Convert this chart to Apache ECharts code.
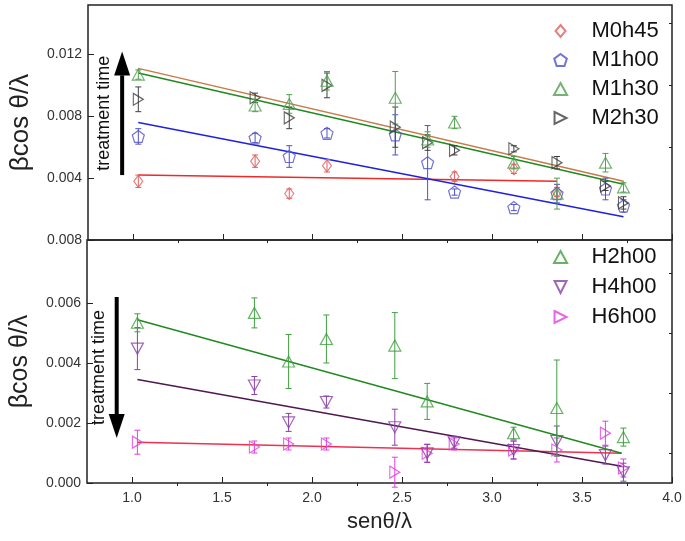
<!DOCTYPE html>
<html lang="en">
<head>
<meta charset="UTF-8">
<title>βcos θ/λ vs senθ/λ</title>
<script src="https://cdn.jsdelivr.net/npm/echarts@6/dist/echarts.min.js"></script>
<style>
  html, body { margin: 0; padding: 0; background: #fff; }
  #chart { width: 685px; height: 541px; }
</style>
</head>
<body>
<div id="chart"></div>
<script>
// points: [senθ/λ, βcosθ/λ, error]
const m0h45 = [[1.03,0.0038,0.0004],[1.68,0.0051,0.0004],[1.87,0.0030,0.0003],[2.08,0.0048,0.0004],[2.79,0.0041,0.0003],[3.12,0.0046,0.0003],[3.36,0.0031,0.0003]];
const m1h00 = [[1.03,0.0067,0.0005],[1.68,0.0066,0.0003],[1.87,0.0054,0.0007],[2.08,0.0069,0.0003],[2.46,0.0068,0.0013],[2.64,0.0050,0.0024],[2.79,0.0031,0.0002],[3.12,0.0021,0.0002],[3.36,0.0030,0.0006],[3.63,0.0033,0.0007],[3.73,0.0022,0.0004]];
const m1h30 = [[1.03,0.0107,0.0003],[1.68,0.0087,0.0004],[1.87,0.0088,0.0006],[2.08,0.0103,0.0006],[2.46,0.0092,0.0017],[2.64,0.0065,0.0005],[2.79,0.0076,0.0004],[3.12,0.0050,0.0004],[3.36,0.0030,0.0010],[3.63,0.0050,0.0006],[3.73,0.0034,0.0003]];
const m2h30 = [[1.03,0.0091,0.0008],[1.68,0.0092,0.0003],[1.87,0.0079,0.0007],[2.08,0.0100,0.0008],[2.46,0.0073,0.0013],[2.64,0.0063,0.0005],[2.79,0.0058,0.0003],[3.12,0.0059,0.0002],[3.36,0.0050,0.0004],[3.63,0.0035,0.0003],[3.73,0.0024,0.0004]];

const h2h00 = [[1.03,0.00534,0.0003],[1.68,0.00567,0.0005],[1.87,0.00405,0.0009],[2.08,0.0048,0.0008],[2.46,0.00458,0.0011],[2.64,0.00272,0.0006],[3.12,0.00166,0.0002],[3.36,0.0025,0.0016],[3.73,0.00153,0.0003]];
const h4h00 = [[1.03,0.00448,0.0007],[1.68,0.00325,0.0003],[1.87,0.00202,0.0003],[2.08,0.0027,0.0002],[2.46,0.00186,0.0006],[2.64,0.00099,0.0003],[2.79,0.00136,0.0002],[3.12,0.0011,0.0003],[3.36,0.0014,0.0005],[3.63,0.00093,0.0003],[3.73,0.00036,0.0003]];
const h6h00 = [[1.03,0.00136,0.0004],[1.68,0.0012,0.0002],[1.87,0.0013,0.0002],[2.08,0.0013,0.0002],[2.46,0.00036,0.0005],[2.64,0.00099,0.0003],[2.79,0.0013,0.0002],[3.12,0.0011,0.0003],[3.36,0.0011,0.0004],[3.63,0.00166,0.0004],[3.73,0.0005,0.0003]];

// linear fits (end points)
const fitM0h45 = [[1.03,0.0042],[3.36,0.0038]];
const fitM1h00 = [[1.03,0.0076],[3.73,0.0015]];
const fitM1h30 = [[1.03,0.0108],[3.73,0.0036]];
const fitM2h30 = [[1.03,0.0111],[3.73,0.0038]];
const fitH2h00 = [[1.03,0.00544],[3.72,0.00099]];
const fitH4h00 = [[1.03,0.00345],[3.72,0.00056]];
const fitH6h00 = [[1.03,0.00136],[3.72,0.00099]];

// ticks
const xMajor = [1.0, 1.5, 2.0, 2.5, 3.0, 3.5, 4.0];
const xMinor = [1.25, 1.75, 2.25, 2.75, 3.25, 3.75];
const topYMajor = [0, 0.004, 0.008, 0.012];
const topYLabels = ['0.008', '0.004', '0.008', '0.012'];
const topYMinor = [0.002, 0.006, 0.010, 0.014];
const botYMajor = [0, 0.002, 0.004, 0.006];
const botYLabels = ['0.000', '0.002', '0.004', '0.006'];
const botYMinor = [0.001, 0.003, 0.005, 0.007];

const FONT = 'Liberation Sans, Arial, sans-serif';
const SYM = {
  diamond: 'path://M5,0 L10,6 L5,12 L0,6 Z',
  pentagon: 'path://M0,-10 L9.5,-3.1 L5.9,8.1 L-5.9,8.1 L-9.5,-3.1 Z',
  up: 'path://M6,0 L12,11 L0,11 Z',
  right: 'path://M0,0 L10,5 L0,10 Z',
  down: 'path://M0,0 L10,0 L5,10 Z'
};

function labelFrom(ticks, labels) {
  return v => {
    const i = ticks.findIndex(t => Math.abs(t - v) < 1e-9);
    return i < 0 ? '' : labels[i];
  };
}

function errorBars(color) {
  return function (params, api) {
    const x = api.value(0);
    const lo = api.coord([x, api.value(1)]);
    const hi = api.coord([x, api.value(2)]);
    const w = 3;
    const style = { stroke: color, lineWidth: 1, fill: null };
    return {
      type: 'group',
      children: [
        { type: 'line', shape: { x1: lo[0], y1: lo[1], x2: hi[0], y2: hi[1] }, style: style },
        { type: 'line', shape: { x1: lo[0] - w, y1: lo[1], x2: lo[0] + w, y2: lo[1] }, style: style },
        { type: 'line', shape: { x1: hi[0] - w, y1: hi[1], x2: hi[0] + w, y2: hi[1] }, style: style }
      ]
    };
  };
}

function dataSet(name, pts, fit, symbol, size, color, lineColor, axis) {
  return [
    {
      name: name + ' fit', type: 'line', xAxisIndex: axis, yAxisIndex: axis,
      data: fit, symbol: 'none', silent: true, z: 2,
      lineStyle: { color: lineColor, width: 1.5 }
    },
    {
      name: name + ' err', type: 'custom', xAxisIndex: axis, yAxisIndex: axis,
      data: pts.map(p => [p[0], p[1] - p[2], p[1] + p[2]]),
      encode: { x: 0, y: [1, 2] }, renderItem: errorBars(color), silent: true, z: 3
    },
    {
      name: name, type: 'scatter', xAxisIndex: axis, yAxisIndex: axis,
      data: pts.map(p => [p[0], p[1]]), symbol: symbol, symbolSize: size, z: 4,
      itemStyle: { color: 'rgba(0,0,0,0)', borderColor: color, borderWidth: 1.2 }
    }
  ];
}

function xAxisDef(grid, ticks, len, withLabels) {
  return {
    gridIndex: grid, type: 'value', min: 0.75, max: 4,
    axisLine: { show: false }, splitLine: { show: false },
    axisTick: { inside: true, length: len, customValues: ticks, lineStyle: { color: '#222' } },
    axisLabel: withLabels
      ? { customValues: xMajor, formatter: v => v.toFixed(1), margin: 8, fontSize: 14, color: '#333', fontFamily: FONT }
      : { show: false }
  };
}

function yAxisDef(grid, max, ticks, len, labelTicks, labels, nameSize) {
  const ax = {
    gridIndex: grid, type: 'value', min: 0, max: max,
    axisLine: { show: false }, splitLine: { show: false },
    axisTick: { inside: true, length: len, customValues: ticks, lineStyle: { color: '#222' } },
    axisLabel: { show: false }
  };
  if (labels) {
    ax.axisLabel = { customValues: labelTicks, formatter: labelFrom(labelTicks, labels), margin: 6, fontSize: 14, color: '#333', fontFamily: FONT };
    ax.name = 'βcos θ/λ';
    ax.nameLocation = 'middle';
    ax.nameRotate = 90;
    ax.nameGap = 54;
    ax.nameTextStyle = { fontSize: nameSize, color: '#222', fontFamily: FONT };
  }
  return ax;
}

const chart = echarts.init(document.getElementById('chart'));

const legendBase = {
  orient: 'vertical', left: 548, itemWidth: 52, itemHeight: 12,
  textStyle: { fontSize: 22, color: '#111', fontFamily: FONT, lineHeight: 22 },
  selectedMode: false
};

const option = {
  animation: false,
  backgroundColor: '#fff',
  grid: [
    { left: 87, right: 13, top: 5, height: 235, show: true, borderColor: '#222', borderWidth: 1.5 },
    { left: 87, right: 13, top: 240, bottom: 58, show: true, borderColor: '#222', borderWidth: 1.5 }
  ],
  xAxis: [
    xAxisDef(0, xMajor, 6, false),
    xAxisDef(0, xMinor, 3, false),
    Object.assign(xAxisDef(1, xMajor, 6, true), {
      name: 'senθ/λ', nameLocation: 'middle', nameGap: 28,
      nameTextStyle: { fontSize: 22, color: '#222', fontFamily: FONT }
    }),
    xAxisDef(1, xMinor, 3, false)
  ],
  yAxis: [
    yAxisDef(0, 0.0152, topYMajor, 6, topYMajor, topYLabels, 26),
    yAxisDef(0, 0.0152, topYMinor, 3),
    yAxisDef(1, 0.0081, botYMajor, 6, botYMajor, botYLabels, 25),
    yAxisDef(1, 0.0081, botYMinor, 3)
  ],
  legend: [
    Object.assign({ top: 15, itemGap: 7, data: ['M0h45', 'M1h00', 'M1h30', 'M2h30'] }, legendBase),
    Object.assign({ top: 241, itemGap: 8, data: ['H2h00', 'H4h00', 'H6h00'] }, legendBase)
  ],
  series: [].concat(
    dataSet('M0h45', m0h45, fitM0h45, SYM.diamond, [9, 12], '#e06060', '#f02828', 0),
    dataSet('M1h00', m1h00, fitM1h00, SYM.pentagon, 12, '#5050c8', '#2020e0', 0),
    dataSet('M2h30', m2h30, fitM2h30, SYM.right, [10, 12], '#404040', '#c87a48', 0),
    dataSet('M1h30', m1h30, fitM1h30, SYM.up, [12, 11], '#50a050', '#208a20', 0),
    dataSet('H6h00', h6h00, fitH6h00, SYM.right, [10, 12], '#e040e0', '#f03050', 2),
    dataSet('H4h00', h4h00, fitH4h00, SYM.down, [12, 11], '#8a40a8', '#501850', 2),
    dataSet('H2h00', h2h00, fitH2h00, SYM.up, [12, 11], '#40a040', '#208a20', 2)
  )
};

chart.setOption(option);

// "treatment time" arrows (data coords of the panel)
const arrowTop = { x: 0.94, from: 0.0042, to: 0.0122 };
const arrowBot = { x: 0.915, from: 0.0062, to: 0.0015 };

function arrowGraphics(axis, a) {
  const p0 = chart.convertToPixel({ xAxisIndex: axis, yAxisIndex: axis }, [a.x, a.from]);
  const p1 = chart.convertToPixel({ xAxisIndex: axis, yAxisIndex: axis }, [a.x, a.to]);
  const dir = p1[1] < p0[1] ? -1 : 1;
  const headLen = 24, headW = 8;
  const baseY = p1[1] - dir * headLen;
  return [
    { type: 'line', shape: { x1: p0[0], y1: p0[1], x2: p0[0], y2: baseY }, style: { stroke: '#000', lineWidth: 4 } },
    { type: 'polygon', shape: { points: [[p1[0], p1[1]], [p1[0] - headW, baseY], [p1[0] + headW, baseY]] }, style: { fill: '#000' } },
    {
      type: 'text', x: p0[0] - 18, y: (p0[1] + p1[1]) / 2, rotation: Math.PI / 2,
      style: { text: 'treatment time', font: '18px ' + FONT, fill: '#111', align: 'center', verticalAlign: 'middle' }
    }
  ];
}

chart.setOption({ graphic: arrowGraphics(0, arrowTop).concat(arrowGraphics(2, arrowBot)) });
</script>
</body>
</html>
